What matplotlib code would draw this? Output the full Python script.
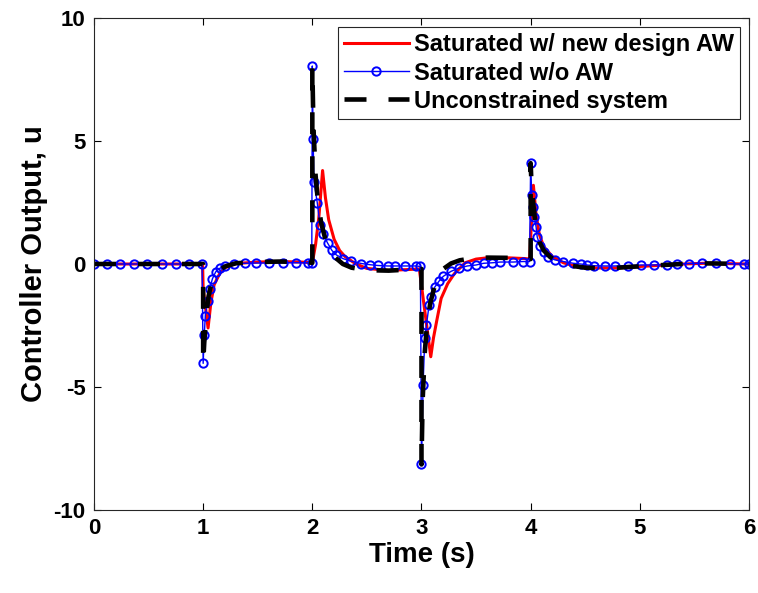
import matplotlib
matplotlib.use("Agg")
import matplotlib.pyplot as plt

# saturated w/ new design AW (red)
red_t = [0, 0.995, 1.0, 1.045, 1.07, 1.1, 1.15, 1.2, 1.3, 1.5, 1.7, 1.9, 2.0,
         2.03, 2.06, 2.094, 2.12, 2.15, 2.2, 2.25, 2.3, 2.4, 2.5, 2.7, 2.9, 2.98,
         3.085, 3.11, 3.14, 3.18, 3.24, 3.3, 3.4, 3.5, 3.6, 3.8, 3.95, 3.99,
         4.025, 4.05, 4.08, 4.12, 4.2, 4.3, 4.4, 4.6, 4.8, 5.0, 5.2, 5.4, 5.6, 6.0]
red_u = [0, 0, -1.0, -2.6, -1.6, -0.85, -0.4, -0.15, 0.02, 0.08, 0.1, 0.08, 0.05,
         0.8, 1.9, 3.8, 2.7, 1.8, 1.0, 0.55, 0.3, 0.0, -0.18, -0.26, -0.22, -0.2,
         -3.77, -3.0, -2.3, -1.4, -0.8, -0.4, 0.05, 0.2, 0.25, 0.25, 0.22, 0.2,
         3.2, 2.0, 1.2, 0.7, 0.3, 0.05, -0.08, -0.16, -0.16, -0.1, -0.05, 0.0, 0.03, 0.0]

# saturated w/o AW (blue, markers at solver steps)
blue_t = [0, 0.12, 0.24, 0.37, 0.49, 0.62, 0.75, 0.87, 0.99,
          1.0, 1.01, 1.02, 1.04, 1.06, 1.085, 1.115, 1.15, 1.2, 1.28, 1.38, 1.48,
          1.6, 1.73, 1.85, 1.96, 1.995,
          2.0, 2.007, 2.015, 2.045, 2.07, 2.1, 2.14, 2.18, 2.22, 2.28, 2.35, 2.45,
          2.53, 2.6, 2.69, 2.76, 2.85, 2.95, 2.99,
          3.0, 3.015, 3.03, 3.045, 3.07, 3.09, 3.12, 3.16, 3.2, 3.27, 3.34, 3.42,
          3.5, 3.57, 3.65, 3.72, 3.84, 3.93, 3.99,
          4.0, 4.01, 4.02, 4.035, 4.05, 4.06, 4.085, 4.12, 4.16, 4.22, 4.3, 4.39,
          4.46, 4.52, 4.58, 4.68, 4.77, 4.89, 5.01, 5.13, 5.25, 5.34, 5.45, 5.57,
          5.7, 5.83, 5.95, 6.0]
blue_u = [0, 0, 0, 0, 0, 0, 0, 0, 0,
          -4.04, -2.9, -2.1, -1.5, -1.0, -0.6, -0.32, -0.18, -0.08, 0.0, 0.03, 0.04,
          0.04, 0.05, 0.05, 0.05, 0.05,
          8.05, 5.1, 3.35, 2.5, 1.6, 1.2, 0.85, 0.55, 0.37, 0.22, 0.12, 0.02,
          -0.03, -0.06, -0.08, -0.08, -0.08, -0.08, -0.1,
          -8.15, -4.9, -3.0, -2.5, -1.65, -1.35, -0.95, -0.7, -0.5, -0.3, -0.17, -0.08,
          -0.04, 0.03, 0.05, 0.08, 0.08, 0.1, 0.1,
          4.12, 2.8, 2.33, 1.9, 1.5, 1.1, 0.75, 0.5, 0.3, 0.17, 0.1, 0.03,
          0.0, -0.04, -0.07, -0.08, -0.08, -0.07, -0.04, -0.04, -0.03, -0.01, 0.02, 0.03,
          0.03, 0.01, 0.0, 0.0]

# unconstrained system (black dashed)
blk_t = [0, 1.0, 1.0, 1.01, 1.03, 1.05, 1.08, 1.12, 1.2, 1.3, 1.5, 1.7, 1.9, 2.0,
         2.0, 2.01, 2.03, 2.05, 2.08, 2.12, 2.16, 2.2, 2.28, 2.36, 2.5, 2.7, 2.9, 3.0,
         3.0, 3.01, 3.03, 3.05, 3.08, 3.12, 3.16, 3.2, 3.27, 3.35, 3.45, 3.6, 3.8,
         3.95, 4.0, 4.0, 4.01, 4.03, 4.05, 4.08, 4.12, 4.18, 4.25, 4.35, 4.5, 4.7,
         4.9, 5.1, 5.3, 5.5, 5.7, 6.0]
blk_u = [0, 0, -4.04, -3.2, -2.0, -1.3, -0.7, -0.35, -0.1, 0.03, 0.08, 0.1, 0.08, 0.05,
         8.05, 5.6, 3.6, 2.6, 1.7, 1.0, 0.6, 0.3, 0.0, -0.15, -0.25, -0.27, -0.22, -0.2,
         -8.15, -5.6, -3.6, -2.5, -1.6, -0.9, -0.5, -0.2, 0.02, 0.15, 0.22, 0.26, 0.25,
         0.22, 0.2, 4.1, 3.0, 2.2, 1.4, 0.9, 0.55, 0.28, 0.08, -0.06, -0.15, -0.18,
         -0.12, -0.07, -0.02, 0.03, 0.02, 0.0]

x_ticks = [0, 1, 2, 3, 4, 5, 6]
y_ticks = [-10, -5, 0, 5, 10]

plt.rcParams['font.family'] = ['Liberation Sans', 'DejaVu Sans']
plt.rcParams['font.weight'] = 'bold'
plt.rcParams['axes.unicode_minus'] = False

fig = plt.figure(figsize=(7.58, 5.93), dpi=100)
ax = fig.add_axes([0.124, 0.14, 0.8641, 0.8296])

ax.plot(red_t, red_u, color='#ff0000', lw=2.2, label='Saturated w/ new design AW')
ax.plot(blue_t, blue_u, color='#0000ff', lw=1.0, marker='o', ms=6, mfc='none',
        mew=1.4, label='Saturated w/o AW')
ax.plot(blk_t, blk_u, color='k', lw=3.3, ls=(0, (4.8, 4.8)), label='Unconstrained system')

ax.set_xlim(0, 6)
ax.set_ylim(-10, 10)
ax.set_xticks(x_ticks)
ax.set_yticks(y_ticks)
ax.tick_params(direction='in', top=True, right=True, labelsize=16, length=5,
               width=0.8, pad=6)
for lbl in ax.get_xticklabels() + ax.get_yticklabels():
    lbl.set_fontweight('bold')
for s in ax.spines.values():
    s.set_linewidth(0.8)
    s.set_color('#262626')

ax.set_xlabel('Time (s)', fontsize=20, fontweight='bold', labelpad=2)
ax.set_ylabel('Controller Output, u', fontsize=21, fontweight='bold', labelpad=4)

leg = ax.legend(loc='upper right', handlelength=2.75, handletextpad=0.2,
                borderpad=0.25, labelspacing=0.22, borderaxespad=0.4, fancybox=False,
                framealpha=1, edgecolor='#262626', prop={'weight': 'bold', 'size': 17})
leg.get_frame().set_linewidth(0.8)

fig.savefig('out.png', dpi=100)
